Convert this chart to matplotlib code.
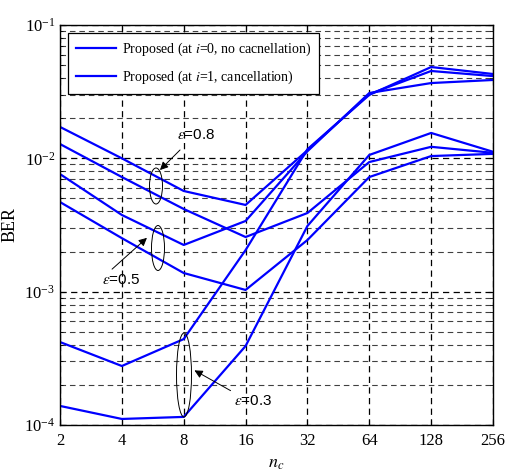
import matplotlib
matplotlib.use('Agg')
import matplotlib.pyplot as plt
from matplotlib.patches import Ellipse
from matplotlib.ticker import FixedLocator, FixedFormatter, LogLocator, NullFormatter

plt.rcParams['font.family'] = ['Liberation Serif', 'DejaVu Serif']
plt.rcParams['mathtext.fontset'] = 'stix'

# data
nc = [2, 4, 8, 16, 32, 64, 128, 256]
nc_labels = ['2', '4', '8', '16', '32', '64', '128', '256']

ber_08_i0 = [1.72e-2, 1.0e-2, 5.69e-3, 4.47e-3, 1.15e-2, 3.03e-2, 4.52e-2, 4.14e-2]
ber_08_i1 = [1.28e-2, 7.24e-3, 4.17e-3, 2.57e-3, 3.89e-3, 9.38e-3, 1.22e-2, 1.10e-2]
ber_05_i0 = [7.62e-3, 3.76e-3, 2.24e-3, 3.39e-3, 1.13e-2, 3.09e-2, 3.67e-2, 3.87e-2]
ber_05_i1 = [4.70e-3, 2.52e-3, 1.38e-3, 1.03e-3, 2.44e-3, 7.24e-3, 1.04e-2, 1.08e-2]
ber_03_i0 = [4.19e-4, 2.77e-4, 4.41e-4, 2.05e-3, 1.17e-2, 2.99e-2, 4.84e-2, 4.29e-2]
ber_03_i1 = [1.39e-4, 1.11e-4, 1.15e-4, 3.91e-4, 3.11e-3, 1.06e-2, 1.55e-2, 1.12e-2]

leg_labels = [r'Proposed (at $i$=0, no cacnellation)',
              r'Proposed (at $i$=1, cancellation)']

fig = plt.figure(figsize=(5.09, 4.76), dpi=100)
ax = fig.add_axes([60/509, 51/476, 433/509, 400/476])

lw = 1.6
h0, = ax.plot(nc, ber_08_i0, color='b', lw=lw)
h1, = ax.plot(nc, ber_08_i1, color='b', lw=lw)
ax.plot(nc, ber_05_i0, color='b', lw=lw)
ax.plot(nc, ber_05_i1, color='b', lw=lw)
ax.plot(nc, ber_03_i0, color='b', lw=lw)
ax.plot(nc, ber_03_i1, color='b', lw=lw)

ax.set_xscale('log', base=2)
ax.set_yscale('log')
ax.set_xlim(2, 256)
ax.set_ylim(1e-4, 1e-1)
ax.xaxis.set_major_locator(FixedLocator(nc))
ax.xaxis.set_major_formatter(FixedFormatter(nc_labels))
ax.xaxis.set_minor_locator(FixedLocator([]))
ax.yaxis.set_major_locator(LogLocator(base=10, numticks=10))
ax.yaxis.set_minor_locator(LogLocator(base=10, subs=range(2, 10), numticks=20))
ax.yaxis.set_minor_formatter(NullFormatter())

dash = (0, (5, 3.5))
ax.grid(True, which='major', color='k', ls=dash, lw=0.9)
ax.grid(True, which='minor', axis='y', color='k', ls=dash, lw=0.8, alpha=0.75)
ax.tick_params(which='both', direction='in', top=True, right=True, labelsize=12)
ax.tick_params(axis='x', pad=6)
for s in ax.spines.values():
  s.set_linewidth(1.0)

ax.set_xlabel(r'$n_c$', fontsize=13, labelpad=4)
ax.set_ylabel('BER', fontsize=13, labelpad=4)

leg = ax.legend([h0, h1], leg_labels, loc='upper left', fontsize=10,
  fancybox=False, framealpha=1, edgecolor='k', handlelength=2.9,
  borderaxespad=0.6, labelspacing=0.75, handletextpad=0.4, borderpad=0.55)
leg.get_frame().set_linewidth(0.9)

# annotations (axes fraction coordinates)
def px(x, y):
  return ((x - 60) / 433., (425 - y) / 400.)

for cx, cy, w, h in [(156, 186, 13, 36), (158, 248, 13, 45), (184, 375, 15, 84)]:
  e = Ellipse(px(cx, cy), width=w/433., height=h/400., transform=ax.transAxes,
    fill=False, ec='k', lw=0.7, zorder=5)
  ax.add_patch(e)

ann = [(r'$\varepsilon$=0.8', (182, 148), (158, 172), (196, 135)),
       (r'$\varepsilon$=0.5', (110, 271), (149, 236), (121, 280)),
       (r'$\varepsilon$=0.3', (233, 392), (192, 369), (253, 401))]
for txt, p0, p1, pt in ann:
  ax.annotate('', xy=px(*p1), xytext=px(*p0), xycoords='axes fraction',
    arrowprops=dict(arrowstyle='-|>', color='k', lw=0.7, mutation_scale=12), zorder=6)
  ax.text(*px(*pt), txt, transform=ax.transAxes, fontsize=11,
    ha='center', va='center', zorder=6, family=['Liberation Sans'])

fig.savefig('out.png', dpi=100)
